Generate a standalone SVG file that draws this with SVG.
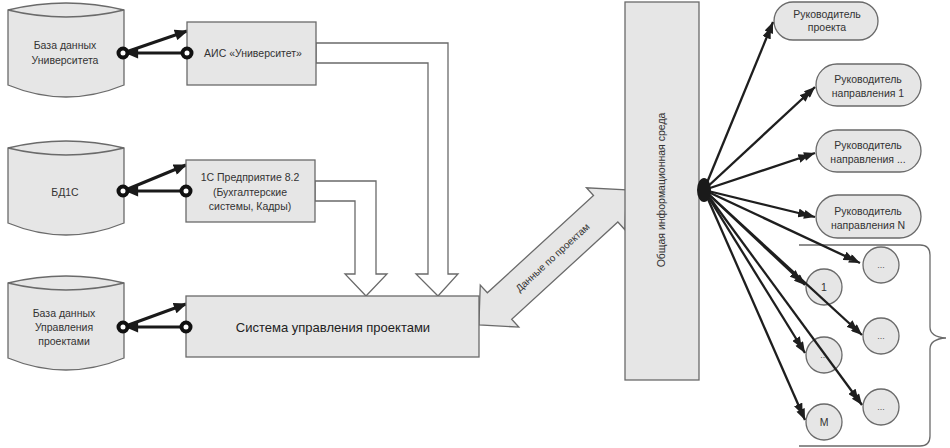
<svg xmlns="http://www.w3.org/2000/svg" width="950" height="448" viewBox="0 0 950 448">
<defs>
<style>
.shape{fill:#e6e6e6;stroke:#6a6a6a;stroke-width:1.3}
.hollow{fill:#ffffff;stroke:#6a6a6a;stroke-width:1.3}
.t{font-family:"Liberation Sans",Arial,sans-serif;font-size:10.5px;fill:#333;text-anchor:middle}
.tb{font-family:"Liberation Sans",Arial,sans-serif;font-size:13px;fill:#222;text-anchor:middle}
.ts{font-family:"Liberation Sans",Arial,sans-serif;font-size:9px;fill:#555;text-anchor:middle}
.link{stroke:#1a1a1a;stroke-width:3;fill:none}
.fan{stroke:#1e1e1e;stroke-width:2.3;fill:none;marker-end:url(#dbl)}
.ring{fill:#ffffff;stroke:#111;stroke-width:4}
</style>
<marker id="tri" viewBox="0 0 12 10" refX="11" refY="5" markerWidth="14" markerHeight="11" markerUnits="userSpaceOnUse" orient="auto">
<path d="M0,0 L12,5 L0,10 z" fill="#1a1a1a"/>
</marker>
<marker id="dbl" viewBox="-6 0 17 9" refX="11" refY="4.5" markerWidth="17" markerHeight="9" markerUnits="userSpaceOnUse" orient="auto">
<path d="M-6,0 L5,4.5 L-6,9 z M0,0 L11,4.5 L0,9 z" fill="#1e1e1e"/>
</marker>
</defs>
<rect width="950" height="448" fill="#ffffff"/>

<g id="connectors">
<path class="hollow" d="M316,43 H448 V274 H458 L438,296 L416,274 H428 V63 H316 Z"/>
<path class="hollow" d="M315,181 H376 V274 H387 L366,296 L345,274 H355 V201 H315 Z"/>
<g id="data-arrow" transform="translate(552.6,257.4) rotate(-42.5)">
<path class="shape" d="M-100,0 L-72,-28.5 L-72,-18 L72,-18 L72,-28.5 L100,0 L72,28.5 L72,18 L-72,18 L-72,28.5 Z"/>
<text class="t" x="0" y="3.5" style="font-size:10px">Данные по проектам</text>
</g>
<line class="link" x1="123" y1="53" x2="187" y2="31" marker-end="url(#tri)"/>
<line class="link" x1="187" y1="53" x2="126" y2="53" marker-end="url(#tri)"/>
<line class="link" x1="123" y1="191" x2="186" y2="165" marker-end="url(#tri)"/>
<line class="link" x1="186" y1="191" x2="126" y2="191" marker-end="url(#tri)"/>
<line class="link" x1="123" y1="327" x2="186" y2="304" marker-end="url(#tri)"/>
<line class="link" x1="186" y1="327" x2="126" y2="327" marker-end="url(#tri)"/>
</g>

<g id="db-univ">
<path class="shape" d="M8,10 Q66,-4 124,10 V85 Q66,109 8,85 Z"/>
<path d="M8,10 Q66,24 124,10" fill="none" stroke="#6a6a6a" stroke-width="1.3"/>
<text class="t" x="65" y="48.5">База данных</text>
<text class="t" x="65" y="64">Университета</text>
</g>
<g id="db-1c">
<path class="shape" d="M8,148 Q66,134 124,148 V223 Q66,247 8,223 Z"/>
<path d="M8,148 Q66,162 124,148" fill="none" stroke="#6a6a6a" stroke-width="1.3"/>
<text class="t" x="65" y="195.5">БД1С</text>
</g>
<g id="db-pm">
<path class="shape" d="M8,283 Q66,269 124,283 V358 Q66,382 8,358 Z"/>
<path d="M8,283 Q66,297 124,283" fill="none" stroke="#6a6a6a" stroke-width="1.3"/>
<text class="t" x="64" y="316.5">База данных</text>
<text class="t" x="64" y="330.5">Управления</text>
<text class="t" x="64" y="344.5">проектами</text>
</g>

<g id="ais">
<rect class="shape" x="187" y="22" width="129" height="63"/>
<text class="t" x="253" y="57">АИС «Университет»</text>
</g>
<g id="ent1c">
<rect class="shape" x="186" y="160" width="129" height="62"/>
<text class="t" x="250" y="180.5">1С Предприятие 8.2</text>
<text class="t" x="250" y="195.5">(Бухгалтерские</text>
<text class="t" x="250" y="209.5">системы, Кадры)</text>
</g>
<g id="pms">
<rect class="shape" x="186" y="296" width="293" height="61"/>
<text class="tb" x="333" y="331.5">Система управления проектами</text>
</g>

<g id="rings">
<circle class="ring" cx="123" cy="53" r="4.5"/>
<circle class="ring" cx="187" cy="53" r="4.5"/>
<circle class="ring" cx="123" cy="191" r="4.5"/>
<circle class="ring" cx="186" cy="191" r="4.5"/>
<circle class="ring" cx="123" cy="327" r="4.5"/>
<circle class="ring" cx="186" cy="327" r="4.5"/>
</g>

<g id="env">
<rect class="shape" x="625" y="2" width="74" height="378"/>
<text class="t" transform="translate(665,190) rotate(-90)" x="0" y="0">Общая информационная среда</text>
</g>

<g id="bracket">
<path d="M799,245 H920 Q930,245 930,255 V327 Q930,337 946,338 Q930,339 930,349 V436 Q930,446 920,446 H799" fill="none" stroke="#6a6a6a" stroke-width="1.3"/>
</g>

<g id="r-proj">
<rect class="shape" x="774" y="2" width="104" height="38" rx="19"/>
<text class="t" x="827" y="17.5">Руководитель</text>
<text class="t" x="827" y="31">проекта</text>
</g>
<g id="r-dir1">
<rect class="shape" x="816" y="64" width="105" height="42" rx="21"/>
<text class="t" x="868" y="82.5">Руководитель</text>
<text class="t" x="868" y="96.5">направления 1</text>
</g>
<g id="r-dirx">
<rect class="shape" x="816" y="130" width="105" height="42" rx="21"/>
<text class="t" x="868" y="148.5">Руководитель</text>
<text class="t" x="868" y="162.5">направления ...</text>
</g>
<g id="r-dirn">
<rect class="shape" x="816" y="195" width="105" height="43" rx="21.5"/>
<text class="t" x="868" y="214.5">Руководитель</text>
<text class="t" x="868" y="228.5">направления N</text>
</g>

<g id="c-r1"><circle class="shape" cx="881" cy="265" r="18"/><text class="ts" x="881" y="268">...</text></g>
<g id="c-1"><circle class="shape" cx="824" cy="287" r="18"/><text class="t" x="824" y="291">1</text></g>
<g id="c-r2"><circle class="shape" cx="881" cy="336" r="18"/><text class="ts" x="881" y="339">...</text></g>
<g id="c-2"><circle class="shape" cx="824" cy="355" r="18"/><text class="ts" x="824" y="358">...</text></g>
<g id="c-r3"><circle class="shape" cx="881" cy="407" r="18"/><text class="ts" x="881" y="410">...</text></g>
<g id="c-m"><circle class="shape" cx="824" cy="422" r="18"/><text class="t" x="824" y="426">M</text></g>

<g id="fan">
<line class="fan" x1="704" y1="190" x2="773" y2="22"/>
<line class="fan" x1="704" y1="190" x2="815" y2="87"/>
<line class="fan" x1="704" y1="190" x2="815" y2="153"/>
<line class="fan" x1="704" y1="190" x2="815" y2="217"/>
<line class="fan" x1="704" y1="190" x2="860" y2="263"/>
<line class="fan" x1="704" y1="190" x2="805" y2="285"/>
<line class="fan" x1="704" y1="190" x2="862" y2="335"/>
<line class="fan" x1="704" y1="190" x2="805" y2="353"/>
<line class="fan" x1="704" y1="190" x2="862" y2="405"/>
<line class="fan" x1="704" y1="190" x2="805" y2="420"/>
<ellipse cx="704" cy="190" rx="7" ry="12" fill="#1a1a1a"/>
</g>
</svg>
